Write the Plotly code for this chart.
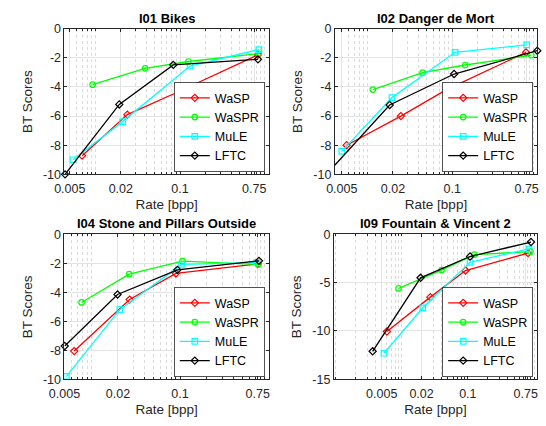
import plotly.graph_objects as go

# ---- data: bit rate [bpp] and Bradley-Terry scores per codec ----
codecs = ["WaSP", "WaSPR", "MuLE", "LFTC"]
codec_colors = ["#ff0000", "#00ff00", "#00ffff", "#000000"]
codec_symbols = ["diamond-open", "circle-open", "square-open", "diamond-open"]

titles = ["I01 Bikes", "I02 Danger de Mort",
          "I04 Stone and Pillars Outside", "I09 Fountain & Vincent 2"]

# I01 Bikes
bikes_rate = [
    [0.0070, 0.0239, 0.0957, 0.83],
    [0.0093, 0.0387, 0.1256, 0.851],
    [0.00545, 0.0210, 0.131, 0.851],
    [0.0044, 0.0192, 0.0832, 0.83],
]
bikes_bt = [
    [-8.72, -5.90, -4.33, -1.79],
    [-3.84, -2.72, -2.25, -1.70],
    [-9.00, -6.38, -2.56, -1.43],
    [-10.0, -5.20, -2.48, -2.10],
]

# I02 Danger de Mort
danger_rate = [
    [0.0057, 0.0248, 0.0855, 0.738],
    [0.0116, 0.0448, 0.142, 0.851],
    [0.0050, 0.0195, 0.108, 0.751],
    [0.00413, 0.0183, 0.105, 1.0],
]
danger_bt = [
    [-8.00, -6.00, -4.18, -1.62],
    [-4.18, -3.02, -2.49, -1.82],
    [-8.42, -4.73, -1.62, -1.11],
    [-9.38, -5.24, -3.11, -1.51],
]

# I04 Stone and Pillars Outside
stone_rate = [
    [0.00644, 0.0271, 0.090, 0.748],
    [0.0078, 0.0268, 0.1067, 0.762],
    [0.00526, 0.0210, 0.104, 0.730],
    [0.00504, 0.0198, 0.0933, 0.773],
]
stone_bt = [
    [-8.05, -4.50, -2.70, -2.05],
    [-4.70, -2.75, -1.85, -2.08],
    [-9.80, -5.20, -2.08, -1.95],
    [-7.70, -4.15, -2.45, -1.83],
]

# I09 Fountain & Vincent 2
fountain_rate = [
    [0.00598, 0.0271, 0.0924, 0.813],
    [0.00897, 0.0402, 0.1253, 0.883],
    [0.0054, 0.0209, 0.108, 0.842],
    [0.00364, 0.0193, 0.108, 0.90],
]
fountain_bt = [
    [-10.05, -6.50, -3.75, -1.95],
    [-5.60, -3.70, -2.10, -1.80],
    [-12.30, -7.60, -2.90, -1.50],
    [-12.10, -4.50, -2.30, -0.80],
]

panel_rates = [bikes_rate, danger_rate, stone_rate, fountain_rate]
panel_scores = [bikes_bt, danger_bt, stone_bt, fountain_bt]

# ---- axes settings ----
x_tickvals = [0.005, 0.02, 0.1, 0.75]
x_ticktext = ["0.005", "0.02", "0.1", "0.75"]
x_minor_vals = [k * 10.0 ** e for e in range(-3, 1) for k in range(1, 10)]
x_log_ranges = [[-2.364, 0.048], [-2.384, 0.0], [-2.301, 0.0], [-3.026, 0.049]]

y_tickvals_10 = [-10, -8, -6, -4, -2, 0]
y_ticktext_10 = ["-10", "-8", "-6", "-4", "-2", "0"]
y_tickvals_15 = [-15, -10, -5, 0]
y_ticktext_15 = ["-15", "-10", "-5", "0"]
y_ranges = [[-10, 0], [-10, 0], [-10, 0], [-15, 0]]

W, H = 546, 426
# panel boxes in pixels: (left, right, top, bottom)
boxes = [(50, 261, 22.5, 173), (329, 538, 22.5, 173),
         (50, 261, 235, 385), (328, 538, 235, 385)]

FONT = "Liberation Sans, Arial, Helvetica, sans-serif"
TXT = "#262626"

fig = go.Figure()
layout = dict(
    width=W, height=H,
    margin=dict(l=0, r=0, t=0, b=0),
    paper_bgcolor="white", plot_bgcolor="white",
    font=dict(family=FONT, size=12.5, color=TXT),
    annotations=[],
)

for p in range(4):
    sfx = "" if p == 0 else str(p + 1)
    xa, ya = "x" + sfx, "y" + sfx
    leg = "legend" + sfx
    for c in range(4):
        fig.add_trace(go.Scatter(
            x=panel_rates[p][c], y=panel_scores[p][c],
            mode="lines+markers", name=codecs[c],
            line=dict(color=codec_colors[c], width=1.3),
            marker=dict(symbol=codec_symbols[c], size=5.5,
                        color=codec_colors[c], line=dict(width=1.2)),
            xaxis=xa, yaxis=ya, legend=leg, cliponaxis=False,
        ))

    l, r, t, b = boxes[p]
    xdom = [l / W, r / W]
    ydom = [1 - b / H, 1 - t / H]

    layout["xaxis" + sfx] = dict(
        domain=xdom, anchor=ya, type="log", range=x_log_ranges[p],
        tickmode="array", tickvals=x_tickvals, ticktext=x_ticktext,
        ticks="inside", ticklen=3, tickcolor=TXT, tickwidth=0.8,
        showline=True, linecolor=TXT, linewidth=0.8, mirror="ticks",
        showgrid=True, gridcolor="#e3e3e3", gridwidth=1,
        minor=dict(tickmode="array", tickvals=x_minor_vals,
                   ticks="inside", ticklen=2, tickcolor=TXT,
                   showgrid=True, gridcolor="#dadada", griddash="dot",
                   gridwidth=0.8),
        tickfont=dict(size=12.5, color=TXT),
        ticklabelstandoff=3,
        title=dict(text="Rate [bpp]", font=dict(size=13.5, color=TXT), standoff=4),
        zeroline=False,
    )
    if p < 3:
        yv, yt = y_tickvals_10, y_ticktext_10
    else:
        yv, yt = y_tickvals_15, y_ticktext_15
    layout["yaxis" + sfx] = dict(
        domain=ydom, anchor=xa, range=y_ranges[p],
        tickmode="array", tickvals=yv, ticktext=yt,
        ticks="inside", ticklen=3, tickcolor=TXT, tickwidth=0.8,
        showline=True, linecolor=TXT, linewidth=0.8, mirror="ticks",
        showgrid=True, gridcolor="#e3e3e3", gridwidth=1,
        tickfont=dict(size=12.5, color=TXT),
        title=dict(text="BT Scores", font=dict(size=13.5, color=TXT), standoff=7),
        zeroline=False,
    )
    layout[leg] = dict(
        x=xdom[1] - 4 / W, y=ydom[0] + 3 / H,
        xanchor="right", yanchor="bottom",
        xref="paper", yref="paper",
        bgcolor="white", bordercolor=TXT, borderwidth=0.8,
        font=dict(family=FONT, size=12.5, color="#000000"),
        itemwidth=30, tracegroupgap=0,
    )
    layout["annotations"].append(dict(
        text="<b>" + titles[p].replace("&", "&amp;") + "</b>",
        x=(xdom[0] + xdom[1]) / 2, y=ydom[1],
        xref="paper", yref="paper", xanchor="center", yanchor="bottom",
        yshift=1, showarrow=False,
        font=dict(family=FONT, size=13, color="#000000"),
    ))

fig.update_layout(**layout)
fig.write_html("out.html")
